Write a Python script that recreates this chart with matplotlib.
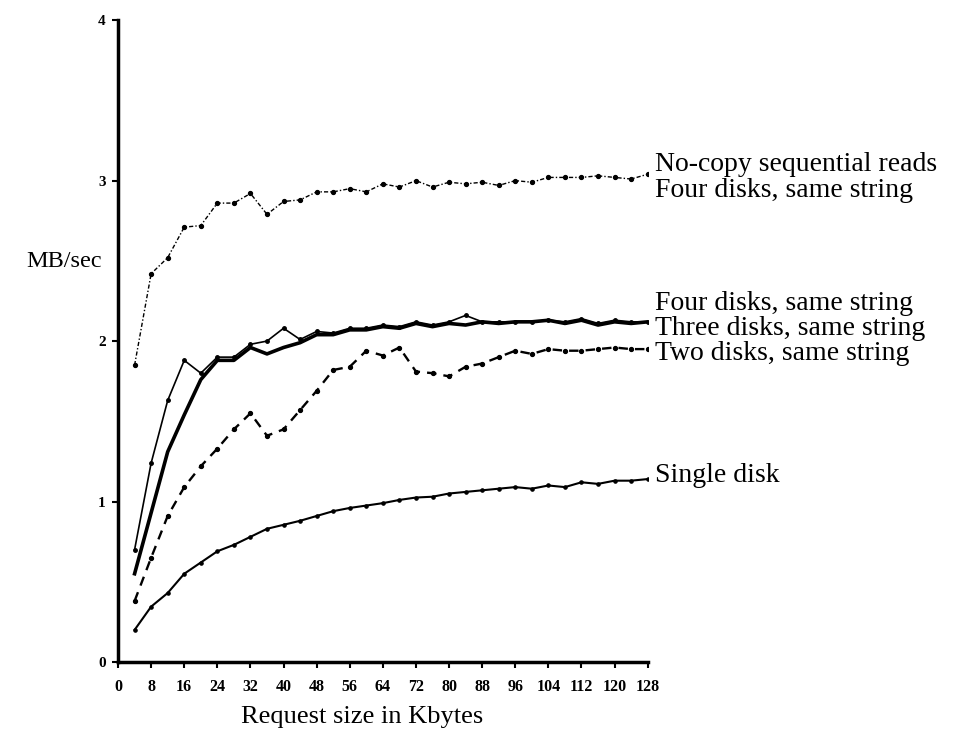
import numpy as np
import matplotlib
matplotlib.use("Agg")
from matplotlib import pyplot as plt

# request sizes, 4 KB steps
kbytes = np.arange(4, 129, 4)

nocopy = [1.85, 2.42, 2.52, 2.71, 2.72, 2.86, 2.86, 2.92, 2.79, 2.87, 2.88, 2.93,
          2.93, 2.95, 2.93, 2.98, 2.96, 3.00, 2.96, 2.99, 2.98, 2.99, 2.97, 3.00,
          2.99, 3.02, 3.02, 3.02, 3.03, 3.02, 3.01, 3.04]
four = [0.70, 1.24, 1.63, 1.88, 1.80, 1.90, 1.90, 1.98, 2.00, 2.08, 2.01, 2.06,
        2.05, 2.08, 2.08, 2.10, 2.09, 2.12, 2.10, 2.12, 2.16, 2.12, 2.12, 2.12,
        2.12, 2.13, 2.12, 2.14, 2.11, 2.13, 2.12, 2.12]
three = [0.55, 0.93, 1.31, 1.54, 1.76, 1.88, 1.88, 1.96, 1.92, 1.96, 1.99, 2.04,
         2.04, 2.07, 2.07, 2.09, 2.08, 2.11, 2.09, 2.11, 2.10, 2.12, 2.11, 2.12,
         2.12, 2.13, 2.11, 2.13, 2.10, 2.12, 2.11, 2.12]
two = [0.38, 0.65, 0.91, 1.09, 1.22, 1.33, 1.45, 1.55, 1.41, 1.45, 1.57, 1.69,
       1.82, 1.84, 1.94, 1.91, 1.96, 1.81, 1.80, 1.78, 1.84, 1.86, 1.90, 1.94,
       1.92, 1.95, 1.94, 1.94, 1.95, 1.96, 1.95, 1.95]
single = [0.20, 0.345, 0.43, 0.55, 0.62, 0.69, 0.73, 0.78, 0.83, 0.855, 0.88, 0.91,
          0.94, 0.96, 0.975, 0.99, 1.01, 1.025, 1.03, 1.05, 1.06, 1.07, 1.08, 1.09,
          1.08, 1.10, 1.09, 1.12, 1.11, 1.13, 1.13, 1.14]

labels = ["No-copy sequential reads\nFour disks, same string",
          "Four disks, same string",
          "Three disks, same string",
          "Two disks, same string",
          "Single disk"]
label_y = [3.02, 2.235, 2.08, 1.925, 1.16]

xticks = np.arange(0, 129, 8)
yticks = [0, 1, 2, 3, 4]

serif = ["Liberation Serif", "DejaVu Serif"]

fig = plt.figure(figsize=(9.55, 7.31), dpi=100)
ax = fig.add_axes([0.1236, 0.0944, 0.5546, 0.878])

ax.plot(kbytes, nocopy, color="black", lw=1.0, ls=(0, (3, 1.5, 1, 1.5)),
        marker="o", ms=2.8)
ax.plot(kbytes, four, color="black", lw=1.2, marker="o", ms=2.5)
ax.plot(kbytes, three, color="black", lw=2.6, solid_joinstyle="round")
ax.plot(kbytes, two, color="black", lw=1.7, ls=(0, (4, 3)), marker="o", ms=2.8)
ax.plot(kbytes, single, color="black", lw=1.5, marker="o", ms=2.3)

ax.set_xlim(0, 128)
ax.set_ylim(0, 4)
ax.set_xticks(xticks)
ax.set_yticks(yticks)
ax.set_xticklabels([str(v) for v in xticks], family=serif, fontweight="bold", fontsize=11.5)
ax.set_yticklabels([str(v) for v in yticks], family=serif, fontweight="bold", fontsize=11)
ax.tick_params(direction="out", length=4, width=1.5)
ax.tick_params(axis="x", pad=8)
ax.tick_params(axis="y", pad=5)

for s in ["top", "right"]:
    ax.spines[s].set_visible(False)
for s in ["left", "bottom"]:
    ax.spines[s].set_linewidth(2.5)

for txt, y in zip(labels, label_y):
    ax.text(129.8, y, txt, family=serif, fontsize=20, va="center", ha="left",
            linespacing=1.05, clip_on=False)

fig.text(0.067, 0.6416, "MB/sec", family=serif, fontsize=17.5, ha="center", va="center")
fig.text(0.379, 0.019, "Request size in Kbytes", family=serif, fontsize=19,
         ha="center", va="center")

fig.savefig("out.png", dpi=100)
